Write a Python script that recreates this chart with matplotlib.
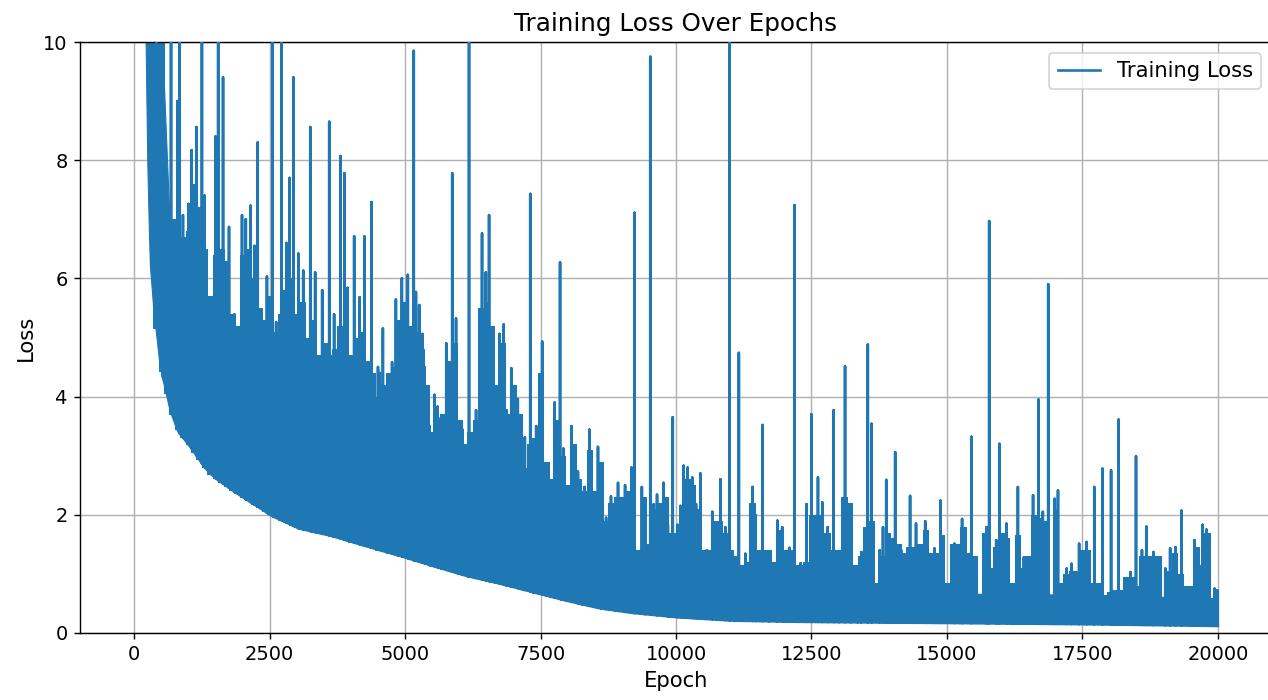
import numpy as np
import matplotlib
matplotlib.use("Agg")
import matplotlib.pyplot as plt

# band of the noisy loss curve
env_epochs = [0, 150, 220, 250, 280, 300, 360, 480, 570, 660, 820, 1040, 1380,
              1870, 2550, 3040, 3660, 4280, 4890, 5500, 6120, 6740, 7500, 7970,
              8590, 9200, 10000, 11050, 12280, 13500, 15000, 17500, 20000]
env_low = [30.0, 14.0, 10.0, 8.0, 6.8, 6.2, 5.5, 4.5, 4.2, 3.8, 3.4, 3.15, 2.7,
           2.38, 1.98, 1.77, 1.64, 1.47, 1.31, 1.14, 0.97, 0.84, 0.66, 0.55,
           0.42, 0.34, 0.27, 0.21, 0.19, 0.18, 0.17, 0.15, 0.12]
env_top = [40.0, 30.0, 14.0, 12.0, 12.0, 12.0, 12.0, 11.0, 9.0, 7.0, 6.5, 6.0, 5.2,
           4.6, 4.2, 4.0, 3.7, 3.5, 3.2, 2.9, 2.6, 2.35, 1.95, 1.7,
           1.45, 1.25, 1.05, 0.9, 0.8, 0.72, 0.66, 0.64, 0.58]

# ragged top of the blue mass, every 100 epochs from 300 to 20000
rag_top = [
    12.0, 12.0, 10.5, 7.3, 7.0, 6.9, 6.7, 6.8, 7.6, 7.2,          # 300-1200
    6.5, 5.7, 6.4, 6.5, 6.3, 5.4, 5.2, 6.4, 6.5, 6.0,             # 1300-2200
    5.5, 5.3, 5.7, 5.1, 5.4, 5.8, 6.0, 5.4, 5.6, 5.0,             # 2300-3200
    5.3, 4.7, 4.9, 4.7, 4.8, 5.2, 5.3, 4.7, 5.0, 5.1,             # 3300-4200
    4.6, 4.4, 4.0, 4.2, 4.4, 4.5, 5.3, 5.6, 5.2, 5.1,             # 4300-5200
    4.8, 4.2, 3.4, 3.6, 3.7, 4.6, 4.9, 3.6, 3.2, 3.4,             # 5300-6200
    3.6, 5.5, 5.6, 5.2, 4.2, 4.9, 3.7, 4.2, 3.7, 2.8,             # 6300-7200
    3.2, 3.3, 4.4, 2.9, 2.6, 3.6, 3.0, 2.5, 3.2, 2.6,             # 7300-8200
    2.4, 3.1, 2.4, 2.9, 1.9, 2.2, 2.3, 2.3, 2.4, 2.6,             # 8300-9200
    1.4, 2.3, 1.5, 2.1, 2.2, 2.3, 1.7, 1.7, 2.0, 2.6,             # 9300-10200
    2.5, 2.1, 1.4, 1.4, 1.9, 1.9, 1.7, 1.4, 1.3, 1.15,            # 10300-11200
    1.2, 2.2, 1.4, 1.4, 1.4, 1.2, 1.75, 1.4, 1.4, 1.15,           # 11300-12200
    1.15, 1.2, 2.0, 2.0, 1.7, 1.7, 1.4, 1.4, 2.3, 2.2,            # 12300-13200
    1.15, 1.3, 1.8, 1.9, 0.85, 1.3, 1.7, 1.2, 1.5, 1.35,          # 13300-14200
    1.45, 1.45, 1.5, 1.75, 1.35, 1.35, 1.65, 0.85, 1.5, 1.5,      # 14300-15200
    1.8, 1.35, 1.3, 0.65, 1.7, 1.1, 1.45, 1.7, 1.6, 0.85,         # 15300-16200
    1.65, 1.1, 1.3, 2.0, 1.95, 1.9, 0.6, 2.1, 0.85, 1.0,          # 16300-17200
    1.05, 1.05, 1.4, 1.4, 0.85, 0.85, 0.65, 0.7, 0.72, 0.72,      # 17300-18200
    0.95, 0.95, 0.8, 1.3, 1.3, 1.3, 1.3, 0.55, 1.05, 1.35,        # 18300-19200
    1.0, 0.8, 0.8, 1.45, 1.15, 1.7, 0.55, 0.72]                   # 19300-20000
rag_epochs = list(range(300, 20001, 100))

# isolated spikes (epoch, loss); 12.0 marks spikes clipped at the top
spike_epochs = [
    530, 580, 680, 800, 840, 900, 1000, 1060, 1150, 1250, 1300, 1500, 1550,
    1640, 1750, 1850, 1990, 2060, 2150, 2220, 2280, 2450, 2550, 2620, 2720,
    2810, 2870, 2940, 3030, 3120, 3250, 3340, 3470, 3600, 3690, 3810, 3880,
    3940, 4060, 4160, 4250, 4380, 4500, 4530, 4590, 4760, 4830, 4940, 5050,
    5160, 5200, 5260, 5320, 5360, 5450, 5540, 5600, 5660, 5760, 5870, 5940,
    6060, 6180, 6310, 6420, 6490, 6550, 6620, 6740, 6820, 6870, 6960, 7080,
    7140, 7210, 7310, 7420, 7530, 7610, 7760, 7860, 7920, 8070, 8190, 8310,
    8400, 8560, 8620, 8710, 8800, 8930, 9060, 9180, 9235, 9370, 9430, 9525,
    9590, 9650, 9770, 9850, 9940, 10030, 10080, 10140, 10215, 10300, 10370,
    10450, 10570, 10670, 10740, 10820, 10910, 10990, 11160, 11280, 11410,
    11470, 11600, 11710, 11870, 11960, 12090, 12190, 12300, 12410, 12500,
    12620, 12700, 12800, 12910, 13010, 13120, 13230, 13350, 13420, 13540,
    13610, 13760, 13820, 13880, 14000, 14045, 14155, 14320, 14430, 14600,
    14770, 14880, 15140, 15280, 15450, 15730, 15780, 15910, 15970, 16100,
    16310, 16420, 16590, 16690, 16770, 16870, 16990, 17050, 17210, 17300,
    17440, 17580, 17720, 17870, 18030, 18170, 18390, 18490, 18600, 18680,
    18810, 19030, 19120, 19220, 19330, 19570, 19720, 19790, 19940, 19990]
spike_loss = [
    9.46, 7.36, 12.0, 9.0, 12.0, 7.07, 7.26, 8.17, 8.56, 12.0, 7.4, 8.4, 12.0,
    9.4, 6.87, 5.39, 7.07, 7.0, 7.23, 6.55, 8.3, 6.03, 12.0, 5.26, 12.0,
    6.6, 7.7, 9.4, 6.42, 6.13, 8.56, 6.1, 5.8, 8.65, 5.39, 8.07, 7.78,
    5.84, 6.71, 5.68, 6.71, 7.29, 4.5, 4.4, 5.15, 4.58, 5.64, 6.0, 6.06,
    9.85, 5.77, 5.55, 5.06, 4.5, 3.5, 4.03, 3.83, 3.64, 4.9, 7.78, 5.32,
    3.44, 12.0, 3.77, 6.76, 6.1, 7.07, 4.48, 5.06, 5.22, 3.77, 4.48, 3.96,
    2.6, 3.31, 7.43, 3.5, 4.93, 2.74, 3.9, 6.27, 3.12, 3.5, 2.73, 2.47,
    3.44, 3.15, 2.54, 1.95, 2.31, 2.54, 2.5, 2.8, 7.11, 2.47, 1.57, 9.75,
    2.18, 2.34, 2.54, 1.83, 3.65, 1.83, 2.15, 2.83, 2.8, 2.63, 2.18,
    2.7, 1.4, 2.05, 1.66, 2.6, 1.79, 12.0, 4.74, 1.34, 2.47,
    1.99, 3.52, 1.28, 1.9, 1.79, 1.44, 7.24, 1.18, 2.18, 3.7,
    2.63, 2.21, 1.79, 3.77, 1.08, 4.51, 1.21, 1.05, 1.37, 4.88,
    3.54, 1.4, 1.79, 2.59, 1.59, 3.06, 1.4, 2.32, 1.85, 1.89,
    1.43, 2.24, 1.51, 1.93, 3.32, 1.79, 6.97, 1.57, 3.2, 1.85,
    2.47, 1.28, 2.33, 3.95, 2.05, 5.9, 2.27, 2.41, 1.09, 1.17,
    1.51, 1.54, 2.47, 2.78, 2.75, 3.61, 1.03, 2.99, 1.4, 1.8,
    1.37, 1.09, 1.43, 1.45, 2.07, 1.57, 1.83, 1.75, 0.75, 0.72]

color = "#1f77b4"
dpi = 126.8
fig = plt.figure(figsize=(1268 / dpi, 700 / dpi), dpi=dpi)
ax = fig.add_axes([80 / 1268, 67 / 700, 1192 / 1268, 591 / 700])

# dense body of the curve
ax.fill_between(env_epochs, env_low, env_top, color=color, lw=0.6, zorder=2)
rag_low = np.interp(rag_epochs, env_epochs, env_low)
ax.fill_between(rag_epochs, rag_low, rag_top, step="mid", color=color,
                lw=0.6, zorder=2)

# spikes as one line rising from the band bottom
se = np.asarray(spike_epochs, float)
base = np.interp(se, env_epochs, env_low)
xs = np.column_stack([se, se, se]).ravel()
ys = np.column_stack([base, spike_loss, base]).ravel()
ax.plot(np.r_[env_epochs[0], xs, env_epochs[-1]],
        np.r_[env_low[0], ys, env_low[-1]],
        color=color, lw=1.5, label="Training Loss", zorder=3)

ax.set_xlim(-1000, 21000)
ax.set_ylim(0, 10)
ax.spines["right"].set_visible(False)
ax.tick_params(labelsize=11)
ax.set_title("Training Loss Over Epochs", fontsize=14)
ax.set_xlabel("Epoch", fontsize=12)
ax.set_ylabel("Loss", fontsize=12)
ax.grid(True)
ax.legend(loc="upper right", fontsize=12)

fig.savefig("out.png", dpi=dpi)
